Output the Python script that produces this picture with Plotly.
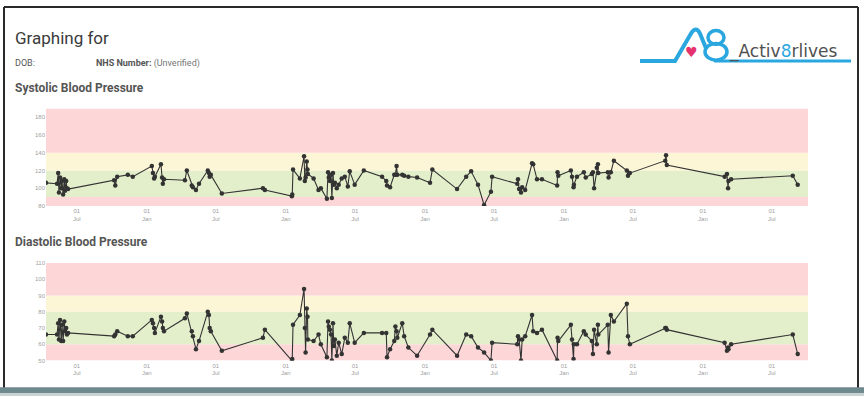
import plotly.graph_objects as go

# ---- data ----
dates = [
    "2014-04-11", "2014-05-10", "2014-05-13", "2014-05-15", "2014-05-18", "2014-05-21", "2014-05-23",
    "2014-05-26", "2014-05-29", "2014-05-31", "2014-06-03", "2014-06-05", "2014-06-08",
    "2014-10-07", "2014-10-10", "2014-10-15", "2014-11-12", "2014-11-25",
    "2015-01-14", "2015-01-17", "2015-01-20", "2015-01-22", "2015-02-07", "2015-02-10", "2015-02-12", "2015-02-15",
    "2015-04-11", "2015-04-16", "2015-04-29", "2015-05-02", "2015-05-10", "2015-05-18",
    "2015-06-10", "2015-06-13", "2015-06-15", "2015-06-18", "2015-07-17",
    "2015-11-02", "2015-11-07", "2016-01-17", "2016-01-18", "2016-01-20", "2016-02-07", "2016-02-18",
    "2016-02-20", "2016-02-22", "2016-02-25", "2016-02-27", "2016-02-28", "2016-03-14", "2016-03-27",
    "2016-04-02", "2016-04-18", "2016-04-21", "2016-04-23", "2016-04-26", "2016-04-29", "2016-05-01",
    "2016-05-04", "2016-05-06", "2016-05-09", "2016-05-14", "2016-05-19", "2016-05-27", "2016-06-04",
    "2016-06-12", "2016-06-17", "2016-06-30", "2016-07-24", "2016-09-10", "2016-09-21", "2016-09-23",
    "2016-10-01", "2016-10-12", "2016-10-15", "2016-10-18", "2016-10-20", "2016-11-02", "2016-11-07",
    "2016-11-18", "2016-12-11", "2017-01-14", "2017-01-20", "2017-03-26", "2017-04-19", "2017-05-02",
    "2017-05-20", "2017-06-05", "2017-06-23", "2017-06-26", "2017-08-31", "2017-09-02", "2017-09-05",
    "2017-09-10", "2017-09-13", "2017-09-21", "2017-10-09", "2017-10-12", "2017-10-22", "2017-11-04",
    "2017-12-14", "2017-12-15", "2017-12-17", "2018-01-19", "2018-01-22", "2018-01-26", "2018-01-27",
    "2018-02-04", "2018-02-22", "2018-02-27", "2018-03-15", "2018-03-18", "2018-03-21", "2018-03-28",
    "2018-03-31", "2018-04-01", "2018-04-26", "2018-04-28", "2018-05-04", "2018-05-12", "2018-06-15",
    "2018-06-18", "2018-06-23", "2018-09-24", "2018-09-26", "2018-09-28", "2019-02-27", "2019-03-05",
    "2019-03-08", "2019-03-09", "2019-03-16", "2019-08-25", "2019-09-07",
]
systolic = [
    106, 105, 117, 95, 112, 100, 108, 93, 110, 97, 108, 100, 99,
    109, 103, 113, 115, 113,
    125, 117, 111, 113, 127, 112, 105, 110,
    109, 120, 103, 101, 98, 105,
    120, 117, 113, 115, 94,
    100, 98, 91, 93, 121, 111, 136,
    108, 112, 130, 121, 116, 111, 98,
    100, 88, 118, 112, 108, 115, 89,
    117, 104, 106, 100, 104, 111, 113,
    102, 119, 104, 120, 113, 108, 103,
    101, 115, 115, 125, 115, 115, 114,
    113, 112, 106, 121, 99, 113, 119,
    104, 81, 96, 113, 105, 110, 99,
    95, 101, 98, 128, 127, 110, 110,
    103, 118, 114, 120, 113, 101, 104,
    113, 118, 112, 116, 118, 100, 123,
    127, 117, 118, 112, 118, 131, 120,
    114, 117, 131, 137, 126, 113, 116,
    100, 108, 110, 114, 104,
]
diastolic = [
    66, 66, 73, 63, 75, 62, 72, 62, 74, 68, 70, 66, 67,
    65, 66, 68, 65, 65,
    75, 73, 70, 67, 77, 74, 70, 68,
    76, 79, 68, 65, 57, 62,
    80, 78, 70, 68, 56,
    64, 69, 50, 51, 72, 78, 94,
    70, 55, 82, 77, 63, 62, 66,
    60, 52, 74, 71, 69, 66, 50,
    73, 59, 63, 53, 61, 54, 64,
    61, 73, 61, 67, 67, 67, 52,
    57, 62, 71, 68, 64, 73, 65,
    58, 53, 66, 69, 53, 66, 65,
    58, 55, 50, 61, 60, 65, 63,
    50, 63, 65, 78, 68, 67, 69,
    50, 64, 62, 72, 63, 51, 60,
    60, 68, 66, 62, 54, 69, 60,
    72, 66, 72, 55, 78, 74, 85,
    65, 60, 70, 70, 69, 61, 56,
    58, 57, 60, 66, 54,
]

sys_ticks = [80, 100, 120, 140, 160, 180]
dia_ticks = [50, 60, 70, 80, 90, 100, 110]
sys_bands = [(80, 90, "#fdd6d7"), (90, 120, "#e3eecb"), (120, 140, "#fdf6d6"), (140, 190, "#fdd6d7")]
dia_bands = [(50, 60, "#fdd6d7"), (60, 80, "#e3eecb"), (80, 90, "#fdf6d6"), (90, 110, "#fdd6d7")]

W, H = 864, 399
def px(x): return x / W
def py(y): return 1 - y / H

line_style = dict(color="#333333", width=1.1)
marker_style = dict(color="#333333", size=4.5, symbol="circle")

fig = go.Figure()
fig.add_trace(go.Scatter(x=dates, y=systolic, mode="lines+markers", line=line_style,
                         marker=marker_style, xaxis="x", yaxis="y", showlegend=False))
fig.add_trace(go.Scatter(x=dates, y=diastolic, mode="lines+markers", line=line_style,
                         marker=marker_style, xaxis="x2", yaxis="y2", showlegend=False))

xcommon = dict(type="date", range=["2014-04-11", "2019-10-04"], tickformat="%d<br>%b",
               dtick="M6", tick0="2014-01-01", showgrid=False, zeroline=False,
               tickfont=dict(size=6, color="#a0a0a0", family="Liberation Sans"),
               ticks="", showline=False, fixedrange=True)
ycommon = dict(showgrid=False, zeroline=False, ticks="", showline=False,
               tickfont=dict(size=6, color="#a0a0a0", family="Liberation Sans"))

shapes = []
for (a, b, c) in sys_bands:
    shapes.append(dict(type="rect", xref="x domain", yref="y", x0=0, x1=1, y0=a, y1=b,
                       fillcolor=c, line=dict(width=0), layer="below"))
for (a, b, c) in dia_bands:
    shapes.append(dict(type="rect", xref="x2 domain", yref="y2", x0=0, x1=1, y0=a, y1=b,
                       fillcolor=c, line=dict(width=0), layer="below"))

# page frame
shapes.append(dict(type="line", xref="paper", yref="paper", x0=px(4), x1=px(4), y0=py(4), y1=py(392),
                   line=dict(color="#2a2a2a", width=2)))
shapes.append(dict(type="line", xref="paper", yref="paper", x0=px(4), x1=px(858), y0=py(4), y1=py(4),
                   line=dict(color="#2a2a2a", width=2)))
shapes.append(dict(type="line", xref="paper", yref="paper", x0=px(858), x1=px(858), y0=py(4), y1=py(392),
                   line=dict(color="#2a2a2a", width=2)))
shapes.append(dict(type="rect", xref="paper", yref="paper", x0=0, x1=1, y0=py(396), y1=py(390),
                   fillcolor="#6f8a8e", line=dict(width=0)))
shapes.append(dict(type="rect", xref="paper", yref="paper", x0=0, x1=1, y0=0, y1=py(396),
                   fillcolor="#c9d3d4", line=dict(width=0)))

# logo
blue = "#2aa7df"
shapes.append(dict(type="path", xref="paper", yref="paper",
                   path=f"M {px(640)},{py(59)} L {px(675)},{py(59)} L {px(691)},{py(31)} "
                        f"Q {px(696)},{py(23)} {px(700)},{py(31)} L {px(706)},{py(46)}",
                   line=dict(color=blue, width=4)))
shapes.append(dict(type="line", xref="paper", yref="paper", x0=px(714), x1=px(851), y0=py(59), y1=py(59),
                   line=dict(color=blue, width=3)))
shapes.append(dict(type="circle", xref="paper", yref="paper", x0=px(708), x1=px(724), y0=py(42), y1=py(28),
                   line=dict(color=blue, width=3.5)))
shapes.append(dict(type="circle", xref="paper", yref="paper", x0=px(705), x1=px(727), y0=py(58), y1=py(41),
                   line=dict(color=blue, width=3.5)))

annotations = [
    dict(text="Graphing for", x=px(13), y=py(36), xanchor="left", yanchor="middle",
         font=dict(size=17, color="#3a3a3a", family="Roboto")),
    dict(text="DOB:", x=px(13), y=py(61), xanchor="left", yanchor="middle",
         font=dict(size=9, color="#555", family="Roboto")),
    dict(text="<b>NHS Number:</b> <span style='color:#777'>(Unverified)</span>", x=px(94), y=py(61),
         xanchor="left", yanchor="middle", font=dict(size=9, color="#555", family="Roboto")),
    dict(text="<b>Systolic Blood Pressure</b>", x=px(13), y=py(86), xanchor="left", yanchor="middle",
         font=dict(size=12, color="#555", family="Roboto")),
    dict(text="<b>Diastolic Blood Pressure</b>", x=px(13), y=py(243), xanchor="left", yanchor="middle",
         font=dict(size=12, color="#555", family="Roboto")),
    dict(text="♥", x=px(691), y=py(50), xanchor="center", yanchor="middle",
         font=dict(size=14, color="#e5326e", family="DejaVu Sans")),
    dict(text="_Activ<span style='color:%s'>8</span>rlives" % blue, x=px(727), y=py(49),
         xanchor="left", yanchor="middle", font=dict(size=17, color="#505050", family="DejaVu Sans")),
]
for a in annotations:
    a.update(xref="paper", yref="paper", showarrow=False)

fig.update_layout(
    width=W, height=H, margin=dict(l=0, r=0, t=0, b=0),
    paper_bgcolor="white", plot_bgcolor="white",
    xaxis=dict(domain=[px(46), px(808)], anchor="y", **xcommon),
    yaxis=dict(domain=[py(206), py(107)], range=[80, 190], tickvals=sys_ticks, anchor="x", **ycommon),
    xaxis2=dict(domain=[px(46), px(808)], anchor="y2", **xcommon),
    yaxis2=dict(domain=[py(363), py(264)], range=[50, 110], tickvals=dia_ticks, anchor="x2", **ycommon),
    shapes=shapes, annotations=annotations,
)

fig.write_html("out.html")
